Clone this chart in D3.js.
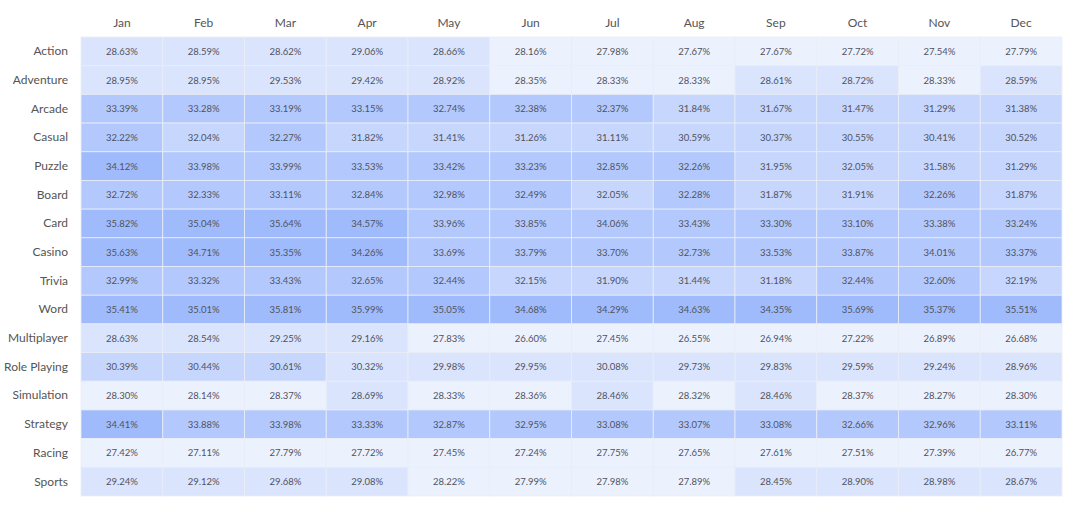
<!DOCTYPE html>
<html>
<head>
<meta charset="utf-8">
<script src="https://cdn.jsdelivr.net/npm/d3@7"></script>
<style>
  html, body { margin: 0; padding: 0; background: #fff; }
  svg { display: block; font-family: Lato, "Noto Sans", sans-serif; }
</style>
</head>
<body>
<svg id="chart" width="1080" height="510"></svg>
<script>
const months = ["Jan","Feb","Mar","Apr","May","Jun","Jul","Aug","Sep","Oct","Nov","Dec"];
const genres = ["Action","Adventure","Arcade","Casual","Puzzle","Board","Card","Casino","Trivia","Word","Multiplayer","Role Playing","Simulation","Strategy","Racing","Sports"];
const action      = [28.63,28.59,28.62,29.06,28.66,28.16,27.98,27.67,27.67,27.72,27.54,27.79];
const adventure   = [28.95,28.95,29.53,29.42,28.92,28.35,28.33,28.33,28.61,28.72,28.33,28.59];
const arcade      = [33.39,33.28,33.19,33.15,32.74,32.38,32.37,31.84,31.67,31.47,31.29,31.38];
const casual      = [32.22,32.04,32.27,31.82,31.41,31.26,31.11,30.59,30.37,30.55,30.41,30.52];
const puzzle      = [34.12,33.98,33.99,33.53,33.42,33.23,32.85,32.26,31.95,32.05,31.58,31.29];
const board       = [32.72,32.33,33.11,32.84,32.98,32.49,32.05,32.28,31.87,31.91,32.26,31.87];
const card        = [35.82,35.04,35.64,34.57,33.96,33.85,34.06,33.43,33.30,33.10,33.38,33.24];
const casino      = [35.63,34.71,35.35,34.26,33.69,33.79,33.70,32.73,33.53,33.87,34.01,33.37];
const trivia      = [32.99,33.32,33.43,32.65,32.44,32.15,31.90,31.44,31.18,32.44,32.60,32.19];
const word        = [35.41,35.01,35.81,35.99,35.05,34.68,34.29,34.63,34.35,35.69,35.37,35.51];
const multiplayer = [28.63,28.54,29.25,29.16,27.83,26.60,27.45,26.55,26.94,27.22,26.89,26.68];
const rolePlaying = [30.39,30.44,30.61,30.32,29.98,29.95,30.08,29.73,29.83,29.59,29.24,28.96];
const simulation  = [28.30,28.14,28.37,28.69,28.33,28.36,28.46,28.32,28.46,28.37,28.27,28.30];
const strategy    = [34.41,33.88,33.98,33.33,32.87,32.95,33.08,33.07,33.08,32.66,32.96,33.11];
const racing      = [27.42,27.11,27.79,27.72,27.45,27.24,27.75,27.65,27.61,27.51,27.39,26.77];
const sports      = [29.24,29.12,29.68,29.08,28.22,27.99,27.98,27.89,28.45,28.90,28.98,28.67];
const rows = [action,adventure,arcade,casual,puzzle,board,card,casino,trivia,word,multiplayer,rolePlaying,simulation,strategy,racing,sports];

const palette = ["#ecf1fe","#dae4fd","#c6d6fd","#b3c9fd","#9fbbfc"];

const cells = [];
rows.forEach((r, i) => r.forEach((v, j) => cells.push({ genre: genres[i], month: months[j], value: v })));

const svg = d3.select("#chart");
const mLeft = 81, mRight = 1062, mTop = 37, mBottom = 496;

const x = d3.scaleBand().domain(months).range([mLeft, mRight]).padding(0);
const y = d3.scaleBand().domain(genres).range([mTop, mBottom]).padding(0);
const color = d3.scaleQuantize()
  .domain(d3.extent(cells, d => d.value))
  .range(palette);

svg.append("g").selectAll("rect")
  .data(cells).join("rect")
  .attr("x", d => x(d.month))
  .attr("y", d => y(d.genre))
  .attr("width", x.bandwidth())
  .attr("height", y.bandwidth())
  .attr("fill", d => color(d.value))
  .attr("stroke", "#e9edf6")
  .attr("stroke-width", 0.8);

svg.append("g").selectAll("text")
  .data(cells).join("text")
  .attr("x", d => x(d.month) + x.bandwidth() / 2)
  .attr("y", d => y(d.genre) + y.bandwidth() / 2)
  .attr("text-anchor", "middle")
  .attr("dominant-baseline", "central")
  .attr("font-size", "9.5px")
  .attr("fill", "#50535f")
  .text(d => d.value.toFixed(2) + "%");

const xAxis = svg.append("g")
  .attr("transform", `translate(0,${mTop - 10})`)
  .call(d3.axisTop(x).tickSize(0).tickPadding(0));
xAxis.select(".domain").remove();
xAxis.selectAll("text").attr("font-size", "12px").attr("fill", "#555")
  .attr("font-family", "Lato, 'Noto Sans', sans-serif");

const yAxis = svg.append("g")
  .attr("transform", `translate(${mLeft - 13},0)`)
  .call(d3.axisLeft(y).tickSize(0).tickPadding(0));
yAxis.select(".domain").remove();
yAxis.selectAll("text").attr("font-size", "12px").attr("fill", "#555")
  .attr("font-family", "Lato, 'Noto Sans', sans-serif");
</script>
</body>
</html>
